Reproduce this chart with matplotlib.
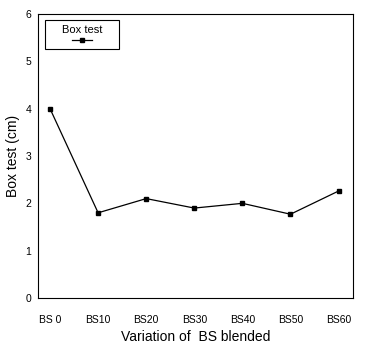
import matplotlib
matplotlib.use("Agg")
import matplotlib.pyplot as plt
from matplotlib.patches import Rectangle

categories = ["BS 0", "BS10", "BS20", "BS30", "BS40", "BS50", "BS60"]
box_test = [4.0, 1.8, 2.1, 1.9, 2.0, 1.77, 2.26]
yticks = [0, 1, 2, 3, 4, 5, 6]
series_name = "Box test"

plt.rcParams['font.family'] = ['Liberation Sans', 'DejaVu Sans']

fig = plt.figure(figsize=(3.67, 3.43), dpi=100)
ax = fig.add_axes([38/367, 1-298/343, (353-38)/367, (298-14)/343])

x = list(range(len(categories)))
ax.plot(x, box_test, color='black', lw=0.9, marker='s', ms=3.5, mfc='black', mec='black')
ax.set_xlim(-0.25, 6.3)
ax.set_ylim(0, 6)
ax.set_xticks(x)
ax.set_xticklabels(categories, fontsize=7.5)
ax.set_yticks(yticks)
ax.set_yticklabels([str(t) for t in yticks], fontsize=7.5)
ax.tick_params(axis='x', length=0, pad=12)
ax.tick_params(axis='y', length=0, pad=5)
for s in ax.spines.values():
    s.set_linewidth(0.8)
ax.set_xlabel("Variation of  BS blended", fontsize=10, labelpad=4)
ax.set_ylabel("Box test (cm)", fontsize=10, labelpad=4)

# legend box
ax.add_patch(Rectangle((0.022, 0.877), 0.235, 0.102, transform=ax.transAxes,
                       fill=False, edgecolor='black', lw=0.8, zorder=5))
ax.text(0.140, 0.945, series_name, transform=ax.transAxes, ha='center', va='center',
        fontsize=8)
ax.plot([0.108, 0.171], [0.908, 0.908], transform=ax.transAxes, color='black', lw=0.9)
ax.plot([0.140], [0.908], transform=ax.transAxes, color='black', marker='s', ms=3.5)

fig.savefig("out.png", dpi=100)
